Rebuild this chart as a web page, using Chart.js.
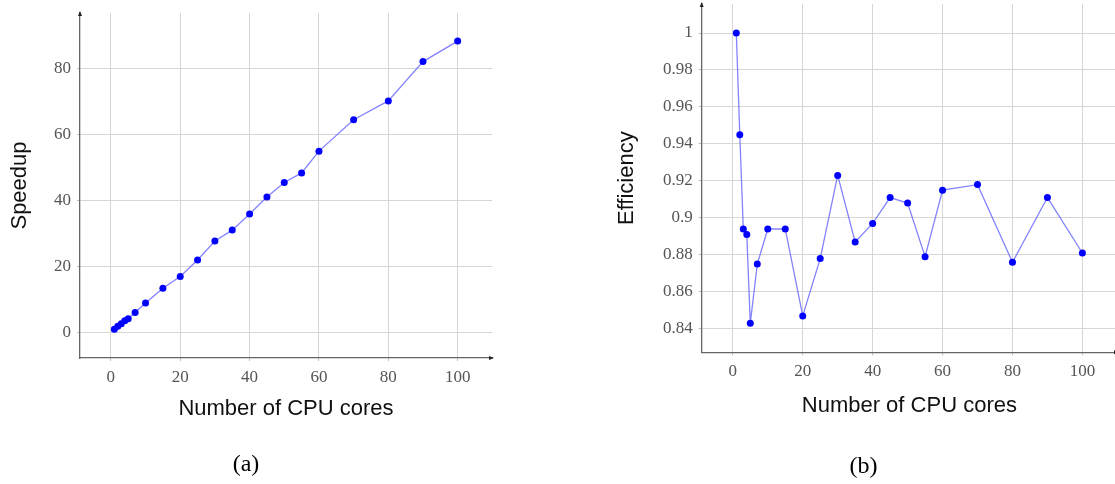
<!DOCTYPE html>
<html lang="en">
<head>
<meta charset="UTF-8">
<title>Speedup and efficiency</title>
<script src="https://cdn.jsdelivr.net/npm/chart.js"></script>
<style>
  body {
    margin: 0;
    background: #fff;
    overflow: hidden;
    width: 1115px;
    height: 484px;
    position: relative;
  }
  .panel {
    position: absolute;
    top: 0;
  }
  #panelA { left: 0; }
  #panelB { left: 610px; }
</style>
</head>
<body>
<div class="panel" id="panelA"><canvas id="chartSpeedup" width="500" height="484"></canvas></div>
<div class="panel" id="panelB"><canvas id="chartEfficiency" width="520" height="484"></canvas></div>

<script>
// values
const cores = [1, 2, 3, 4, 5, 7, 10, 15, 20, 25, 30, 35, 40, 45, 50, 55, 60, 70, 80, 90, 100];
const speedup = [1, 1.89, 2.68, 3.56, 4.21, 6.1, 8.94, 13.4, 16.94, 21.95, 27.7, 31.0, 35.9, 41.0, 45.4, 48.3, 54.9, 64.4, 70.1, 82.0, 88.2];
const efficiency = [1.0, 0.945, 0.894, 0.891, 0.843, 0.875, 0.894, 0.894, 0.847, 0.878, 0.923, 0.887, 0.897, 0.911, 0.908, 0.879, 0.915, 0.918, 0.876, 0.911, 0.881];

const xLabel = 'Number of CPU cores';
const tickFont = { family: 'Liberation Serif', size: 17 };
const titleFont = { family: 'Liberation Sans', size: 22 };
const gridColor = '#d6d6d6';
const axisColor = '#666';

// small arrow heads at the end of the axis lines
const axisArrows = {
  id: 'axisArrows',
  afterDraw(chart) {
    const a = chart.chartArea;
    const ctx = chart.ctx;
    ctx.save();
    ctx.fillStyle = '#222';
    ctx.beginPath();
    ctx.moveTo(a.left, a.top - 2);
    ctx.lineTo(a.left - 2, a.top + 3);
    ctx.lineTo(a.left + 2, a.top + 3);
    ctx.fill();
    ctx.beginPath();
    ctx.moveTo(a.right + 2, a.bottom);
    ctx.lineTo(a.right - 3, a.bottom - 2);
    ctx.lineTo(a.right - 3, a.bottom + 2);
    ctx.fill();
    ctx.restore();
  }
};

function makeChart(id, values, cfg) {
  const ctx = document.getElementById(id).getContext('2d');
  return new Chart(ctx, {
    type: 'line',
    data: {
      datasets: [{
        data: cores.map((c, i) => ({ x: c, y: values[i] })),
        borderColor: 'rgba(100, 100, 255, 0.8)',
        borderWidth: 1.3,
        pointRadius: 3.5,
        pointBackgroundColor: '#0000ff',
        pointBorderWidth: 0,
        tension: 0
      }]
    },
    options: {
      responsive: false,
      animation: false,
      layout: { padding: cfg.padding },
      plugins: {
        legend: { display: false },
        tooltip: { enabled: false },
        title: {
          display: true,
          position: 'bottom',
          text: cfg.caption,
          color: '#000',
          font: { family: 'Liberation Serif', size: 24, weight: 'normal' },
          padding: { top: 0, bottom: cfg.captionPad }
        }
      },
      scales: {
        x: {
          type: 'linear',
          min: -8.9,
          max: 109.9,
          afterFit: s => {
            s.height = cfg.xHeight;
            s.paddingLeft = 0;
            s.paddingRight = 0;
          },
          ticks: { stepSize: 20, includeBounds: false, padding: 6, color: '#555', font: tickFont, maxRotation: 0 },
          grid: { color: gridColor, tickLength: 3, tickColor: '#bbb' },
          border: { color: axisColor, width: 1.3 },
          title: { display: true, text: xLabel, color: '#111', font: titleFont, padding: { top: 0, bottom: cfg.xTitlePad } }
        },
        y: {
          type: 'linear',
          min: cfg.yMin,
          max: cfg.yMax,
          afterFit: s => {
            s.width = cfg.yWidth;
            s.paddingTop = 0;
            s.paddingBottom = 0;
          },
          ticks: {
            stepSize: cfg.yStep,
            includeBounds: false,
            padding: 6,
            color: '#555',
            font: tickFont,
            callback: v => String(+v.toFixed(2))
          },
          grid: { color: gridColor, tickLength: 3, tickColor: '#bbb' },
          border: { color: axisColor, width: 1.3 },
          title: { display: true, text: cfg.yLabel, color: '#111', font: titleFont, padding: { top: cfg.yTitlePad, bottom: 0 } }
        }
      }
    },
    plugins: [axisArrows]
  });
}

makeChart('chartSpeedup', speedup, {
  caption: '(a)',
  captionPad: 4.6,
  padding: { top: 13, right: 8, left: 0, bottom: 0 },
  xHeight: 92.6,
  xTitlePad: 28,
  yWidth: 80,
  yTitlePad: 7,
  yLabel: 'Speedup',
  yMin: -7.7,
  yMax: 96.7,
  yStep: 20
});

makeChart('chartEfficiency', efficiency, {
  caption: '(b)',
  captionPad: 2.6,
  padding: { top: 4, right: 13, left: 0, bottom: 0 },
  xHeight: 100.3,
  xTitlePad: 33,
  yWidth: 91.7,
  yTitlePad: 4,
  yLabel: 'Efficiency',
  yMin: 0.8273,
  yMax: 1.0157,
  yStep: 0.02
});
</script>
</body>
</html>
